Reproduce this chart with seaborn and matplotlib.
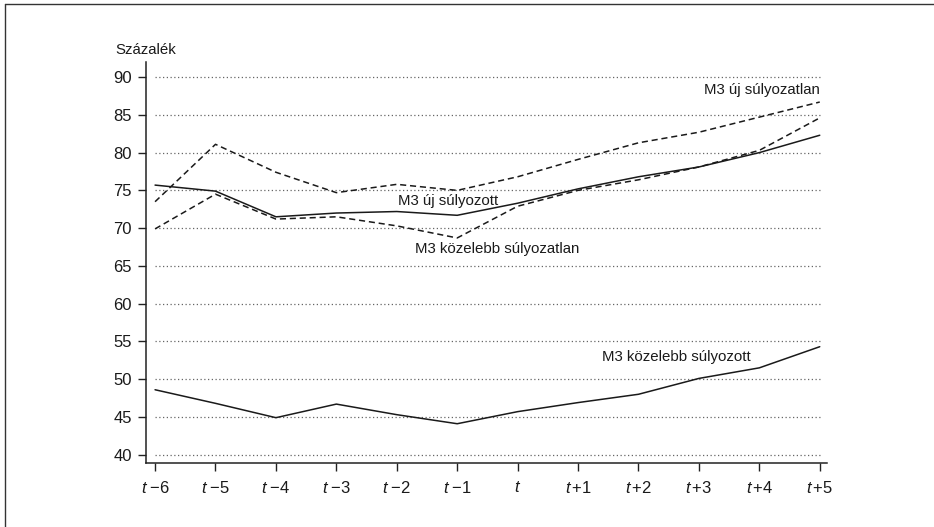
import pandas as pd
import seaborn as sns
import matplotlib.pyplot as plt
from matplotlib.lines import Line2D

periods = ["t-6", "t-5", "t-4", "t-3", "t-2", "t-1", "t",
           "t+1", "t+2", "t+3", "t+4", "t+5"]
tick_labels = [r"$t\;{-}6$", r"$t\;{-}5$", r"$t\;{-}4$", r"$t\;{-}3$", r"$t\;{-}2$",
               r"$t\;{-}1$", r"$t$", r"$t\,{+}1$", r"$t\,{+}2$", r"$t\,{+}3$",
               r"$t\,{+}4$", r"$t\,{+}5$"]

uj_sulyozatlan = [73.5, 81.1, 77.4, 74.7, 75.8, 75.0, 76.8, 79.1, 81.3, 82.7, 84.7, 86.7]
uj_sulyozott = [75.7, 74.9, 71.5, 72.0, 72.2, 71.7, 73.3, 75.2, 76.8, 78.1, 80.0, 82.3]
kozelebb_sulyozatlan = [69.9, 74.5, 71.2, 71.5, 70.3, 68.7, 72.9, 75.0, 76.4, 78.1, 80.3, 84.6]
kozelebb_sulyozott = [48.6, 46.8, 44.9, 46.7, 45.3, 44.1, 45.7, 46.9, 48.0, 50.1, 51.5, 54.3]

series = {
    "M3 új súlyozatlan": uj_sulyozatlan,
    "M3 új súlyozott": uj_sulyozott,
    "M3 közelebb súlyozatlan": kozelebb_sulyozatlan,
    "M3 közelebb súlyozott": kozelebb_sulyozott,
}
dashed = {"M3 új súlyozatlan": True, "M3 új súlyozott": False,
          "M3 közelebb súlyozatlan": True, "M3 közelebb súlyozott": False}

# label positions (x index, y value, alignment)
labels = [
    ("M3 új súlyozatlan", 11.0, 88.3, "right"),
    ("M3 új súlyozott", 4.85, 73.6, "center"),
    ("M3 közelebb súlyozatlan", 5.66, 67.2, "center"),
    ("M3 közelebb súlyozott", 8.62, 53.0, "center"),
]

sns.set_style("white")
fam = "Liberation Sans"
plt.rcParams["font.family"] = [fam, "DejaVu Sans"]
plt.rcParams["mathtext.fontset"] = "custom"
plt.rcParams["mathtext.rm"] = fam
plt.rcParams["mathtext.it"] = fam + ":italic"
fs = 10.8

fig = plt.figure(figsize=(9.34, 5.27), dpi=100)
ax = fig.add_axes([146 / 934, 1 - 463 / 527, 681 / 934, 401 / 527])

rows = []
for name, vals in series.items():
    for i, v in enumerate(vals):
        rows.append({"idx": i, "value": v, "series": name})
df = pd.DataFrame(rows)

ax.hlines(range(40, 91, 5), 0, len(periods) - 1, colors="#666666",
          linestyles=(0, (1, 2)), linewidth=0.9, zorder=1)

for name in series:
    sub = df[df["series"] == name]
    sns.lineplot(data=sub, x="idx", y="value", ax=ax, color="#1a1a1a",
                 linewidth=1.1, linestyle=(0, (4, 2.5)) if dashed[name] else "-",
                 zorder=3)

for text, x, y, ha in labels:
    ax.text(x, y, text, ha=ha, va="center", fontsize=fs, color="#1a1a1a")

ax.set_xlim(-0.15, 11.12)
ax.set_ylim(38.9, 92)
ax.set_yticks(range(40, 91, 5))
ax.set_xticks(range(len(periods)))
ax.set_xticklabels(tick_labels)
ax.set_xlabel("")
ax.set_ylabel("")
for side in ["top", "right"]:
    ax.spines[side].set_visible(False)
for side in ["left", "bottom"]:
    ax.spines[side].set_color("#222222")
    ax.spines[side].set_linewidth(1.1)
ax.tick_params(axis="both", direction="out", length=6, width=1, color="#222222",
               labelcolor="#1a1a1a", labelsize=12, bottom=True, left=True)
ax.tick_params(axis="y", pad=4)
ax.tick_params(axis="x", pad=6)

fig.text(146 / 934, 1 - 50 / 527, "Százalék", ha="center", va="center",
         fontsize=fs, color="#1a1a1a")

# thin frame around the figure
fig.add_artist(Line2D([5 / 934, 5 / 934], [0, 1 - 4 / 527], transform=fig.transFigure,
                      color="#333333", linewidth=1))
fig.add_artist(Line2D([5 / 934, 1], [1 - 4 / 527, 1 - 4 / 527], transform=fig.transFigure,
                      color="#333333", linewidth=1))

fig.savefig("out.png", dpi=100)
